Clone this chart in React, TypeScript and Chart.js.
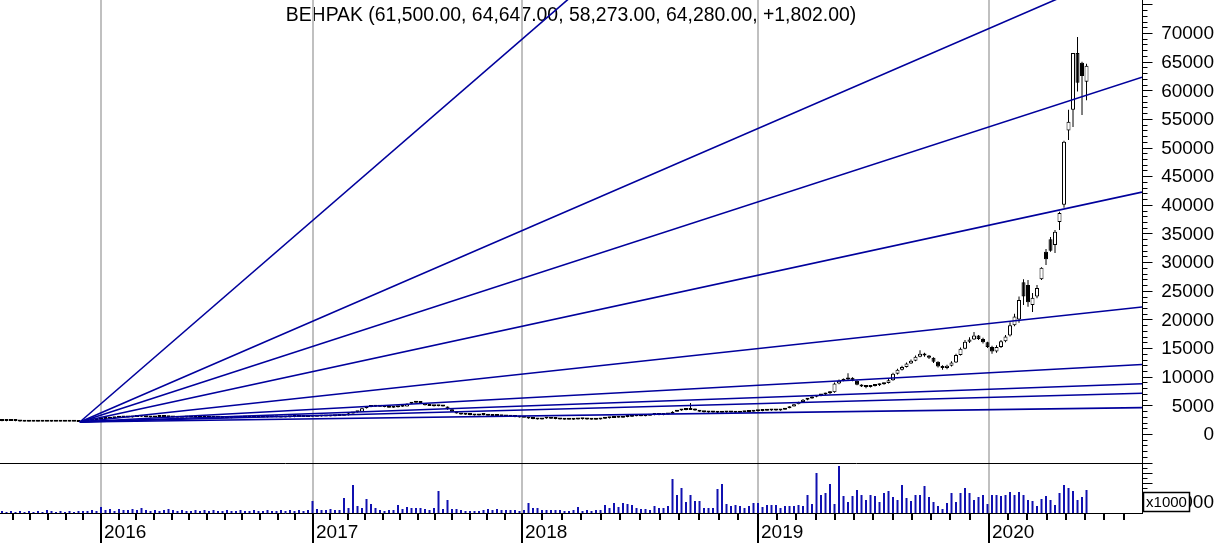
import React, { useEffect, useRef } from 'react';
import { Chart, registerables } from 'chart.js';

Chart.register(...registerables);

const FONT = '"Liberation Sans", Arial, Helvetica, sans-serif';
const TITLE = 'BEHPAK (61,500.00, 64,647.00, 58,273.00, 64,280.00, +1,802.00)';

// Weekly bars (index 0 = first bar on the left)
const opens = [
  2280, 2300, 2280, 2320, 2260, 2180, 2150, 2140, 2160, 2130,
  2140, 2150, 2130, 2120, 2140, 2130, 2120, 2140, 2110, 2250,
  2380, 2450, 2520, 2600, 2680, 2750, 2820, 2880, 2950, 2900,
  2980, 3050, 2990, 2940, 2900, 2950, 3000, 2960, 2920, 2880,
  2850, 2870, 2900, 2860, 2830, 2800, 2820, 2850, 2870, 2840,
  2810, 2790, 2820, 2850, 2880, 2900, 2870, 2850, 2880, 2910,
  2940, 2960, 2930, 2900, 2920, 2950, 2980, 3000, 2970, 2990,
  3020, 3050, 3080, 3060, 3100, 3150, 3200, 3280, 3600, 3800,
  3900, 4500, 4700, 4800, 4750, 4850, 4700, 4600, 4650, 4750,
  4800, 5300, 5450, 5500, 5400, 5000, 4900, 4850, 4950, 4800,
  4300, 3900, 3600, 3400, 3350, 3300, 3250, 3350, 3300, 3200,
  3150, 3200, 3100, 3050, 3000, 2950, 2900, 2850, 2700, 2600,
  2550, 2700, 2750, 2650, 2600, 2550, 2500, 2480, 2550, 2600,
  2580, 2520, 2480, 2550, 2650, 2750, 2800, 2900, 2850, 2950,
  3000, 3100, 3150, 3100, 3200, 3300, 3350, 3300, 3400, 3550,
  3900, 4100, 4300, 4200, 4400, 4100, 3900, 3800, 3750, 3800,
  3700, 3750, 3800, 3750, 3700, 3800, 3850, 3900, 3950, 4000,
  4050, 4100, 4150, 4100, 4250, 4500, 4800, 5200, 5600, 6000,
  6200, 6500, 6700, 6900, 7100, 7300, 8800, 9300, 9500, 9800,
  9300, 8600, 8300, 8200, 8400, 8500, 8700, 8900, 9400, 10500,
  11200, 11700, 12300, 12800, 13500, 14000, 13700, 13300, 12600, 11800,
  11500, 11900, 12500, 13800, 14900, 16100, 16500, 17200, 16600, 16000,
  15200, 14400, 15200, 16200, 17200, 19000, 20000, 26500, 26000, 22500,
  24000, 27000, 31800, 34000, 33000, 37000, 40000, 53000, 56600, 66500,
  64800, 61500,
];
const highs = [
  2350, 2330, 2350, 2340, 2280, 2200, 2170, 2180, 2170, 2160,
  2170, 2170, 2150, 2160, 2160, 2150, 2160, 2160, 2280, 2400,
  2480, 2550, 2640, 2720, 2790, 2860, 2920, 2990, 2980, 3010,
  3090, 3080, 3020, 2970, 2980, 3030, 3030, 2990, 2940, 2900,
  2900, 2920, 2920, 2880, 2850, 2850, 2870, 2900, 2890, 2860,
  2830, 2840, 2870, 2900, 2930, 2920, 2890, 2900, 2930, 2960,
  2990, 2980, 2950, 2940, 2970, 3000, 3030, 3020, 3010, 3050,
  3080, 3110, 3100, 3120, 3180, 3230, 3320, 3650, 3850, 3950,
  4600, 4750, 4850, 4820, 4900, 4880, 4720, 4700, 4800, 4850,
  5350, 5500, 5600, 5550, 5420, 5050, 4950, 5000, 4980, 4820,
  4350, 3950, 3650, 3450, 3400, 3330, 3380, 3380, 3330, 3230,
  3230, 3230, 3130, 3080, 3030, 2980, 2930, 2880, 2730, 2630,
  2730, 2780, 2780, 2680, 2630, 2580, 2530, 2580, 2630, 2630,
  2600, 2540, 2580, 2680, 2780, 2830, 2930, 2920, 2980, 3030,
  3130, 3180, 3180, 3230, 3330, 3380, 3380, 3430, 3580, 3950,
  4150, 4350, 4400, 5400, 4450, 4150, 3950, 3830, 3830, 3830,
  3780, 3830, 3830, 3780, 3830, 3880, 3930, 3980, 4030, 4080,
  4130, 4180, 4180, 4280, 4550, 4850, 5250, 5650, 6100, 6300,
  6600, 6800, 7000, 7200, 7500, 9000, 9500, 9700, 10600, 9900,
  9400, 8700, 8400, 8500, 8700, 8800, 9000, 9600, 10700, 11400,
  11900, 12500, 13000, 13700, 14600, 14200, 13800, 13400, 12700, 12000,
  12100, 12700, 14000, 15100, 16400, 16900, 17800, 17300, 16800, 16100,
  15400, 15500, 16400, 17300, 19500, 21000, 24000, 27000, 26900, 24600,
  26000, 29100, 32300, 34400, 35600, 38800, 51200, 56600, 66500, 69300,
  65000, 64647,
];
const lows = [
  2230, 2240, 2250, 2230, 2150, 2120, 2110, 2120, 2110, 2110,
  2120, 2110, 2100, 2100, 2110, 2100, 2100, 2095, 2100, 2230,
  2350, 2420, 2490, 2570, 2650, 2720, 2790, 2850, 2870, 2880,
  2950, 2960, 2910, 2870, 2880, 2920, 2930, 2890, 2850, 2820,
  2830, 2840, 2840, 2800, 2780, 2780, 2800, 2830, 2820, 2790,
  2770, 2770, 2800, 2830, 2860, 2850, 2830, 2830, 2860, 2890,
  2920, 2910, 2880, 2880, 2900, 2930, 2960, 2950, 2950, 2970,
  3000, 3030, 3040, 3040, 3080, 3130, 3180, 3250, 3550, 3750,
  3880, 4450, 4650, 4700, 4720, 4680, 4570, 4580, 4620, 4720,
  4780, 5250, 5400, 5350, 4980, 4870, 4820, 4830, 4780, 4250,
  3870, 3570, 3370, 3320, 3270, 3220, 3220, 3270, 3170, 3120,
  3120, 3070, 3020, 2970, 2920, 2870, 2820, 2670, 2570, 2520,
  2530, 2670, 2620, 2570, 2520, 2470, 2450, 2460, 2520, 2550,
  2500, 2450, 2460, 2520, 2620, 2720, 2780, 2820, 2830, 2920,
  2980, 3080, 3080, 3080, 3180, 3280, 3270, 3280, 3380, 3520,
  3870, 4080, 4150, 4180, 4080, 3870, 3770, 3720, 3720, 3680,
  3680, 3720, 3720, 3680, 3680, 3780, 3830, 3880, 3930, 3980,
  4030, 4080, 4080, 4080, 4230, 4480, 4780, 5180, 5550, 5900,
  6150, 6400, 6600, 6800, 7000, 7200, 8700, 9200, 9400, 9200,
  8500, 8200, 8000, 8100, 8300, 8400, 8600, 8800, 9300, 10400,
  11100, 11600, 12200, 12700, 13400, 13500, 13100, 12400, 11600, 11200,
  11300, 11800, 12400, 13700, 14800, 15900, 16400, 16400, 15800, 15000,
  14000, 14200, 15000, 16000, 17000, 18800, 19400, 22500, 22200, 21300,
  23700, 26900, 29500, 31800, 31600, 35600, 39500, 51300, 53600, 59800,
  55700, 58273,
];
const closes = [
  2300, 2280, 2320, 2260, 2180, 2150, 2140, 2160, 2130, 2140,
  2150, 2130, 2120, 2140, 2130, 2120, 2140, 2110, 2250, 2380,
  2450, 2520, 2600, 2680, 2750, 2820, 2880, 2950, 2900, 2980,
  3050, 2990, 2940, 2900, 2950, 3000, 2960, 2920, 2880, 2850,
  2870, 2900, 2860, 2830, 2800, 2820, 2850, 2870, 2840, 2810,
  2790, 2820, 2850, 2880, 2900, 2870, 2850, 2880, 2910, 2940,
  2960, 2930, 2900, 2920, 2950, 2980, 3000, 2970, 2990, 3020,
  3050, 3080, 3060, 3100, 3150, 3200, 3280, 3600, 3800, 3900,
  4500, 4700, 4800, 4750, 4850, 4700, 4600, 4650, 4750, 4800,
  5300, 5450, 5500, 5400, 5000, 4900, 4850, 4950, 4800, 4300,
  3900, 3600, 3400, 3350, 3300, 3250, 3350, 3300, 3200, 3150,
  3200, 3100, 3050, 3000, 2950, 2900, 2850, 2700, 2600, 2550,
  2700, 2750, 2650, 2600, 2550, 2500, 2480, 2550, 2600, 2580,
  2520, 2480, 2550, 2650, 2750, 2800, 2900, 2850, 2950, 3000,
  3100, 3150, 3100, 3200, 3300, 3350, 3300, 3400, 3550, 3900,
  4100, 4300, 4200, 4400, 4100, 3900, 3800, 3750, 3800, 3700,
  3750, 3800, 3750, 3700, 3800, 3850, 3900, 3950, 4000, 4050,
  4100, 4150, 4100, 4250, 4500, 4800, 5200, 5600, 6000, 6200,
  6500, 6700, 6900, 7100, 7300, 8800, 9300, 9500, 9800, 9300,
  8600, 8300, 8200, 8400, 8500, 8700, 8900, 9400, 10500, 11200,
  11700, 12300, 12800, 13500, 14000, 13700, 13300, 12600, 11800, 11500,
  11900, 12500, 13800, 14900, 16100, 16500, 17200, 16600, 16000, 15200,
  14400, 15200, 16200, 17000, 19000, 20500, 23400, 24000, 23000, 23800,
  25500, 29000, 30500, 32000, 35300, 38600, 51000, 54500, 66500, 61300,
  62478, 64280,
];
// volume, in thousands of shares (panel label x1000)
const volumes = [
  2000, 1000, 2000, 1000, 2000, 1000, 2000, 1000, 2000, 1000,
  3000, 2000, 1000, 2000, 1000, 2000, 1000, 2000, 2000, 2000,
  3000, 2000, 6000, 3000, 4000, 2000, 4000, 3000, 3000, 4000,
  3000, 5000, 3000, 2000, 3000, 2000, 3000, 4000, 3000, 2000,
  3000, 2000, 2000, 3000, 2000, 3000, 2000, 3000, 2000, 2000,
  3000, 2000, 2000, 3000, 2000, 2000, 3000, 2000, 2000, 3000,
  2000, 2000, 3000, 2000, 3000, 2000, 3000, 2000, 3000, 12000,
  4000, 3000, 3000, 4000, 3000, 3000, 15000, 5000, 28000, 7000,
  5000, 14000, 9000, 5000, 3000, 2000, 3000, 3000, 8000, 4000,
  6000, 5000, 5000, 5000, 4000, 3000, 5000, 22000, 4000, 13000,
  4000, 4000, 3000, 2000, 2000, 2000, 2000, 3000, 4000, 3000,
  4000, 3000, 3000, 3000, 3000, 2000, 3000, 10000, 5000, 5000,
  3000, 3000, 3000, 3000, 3000, 2000, 2000, 3000, 6000, 2000,
  3000, 2000, 3000, 3000, 8000, 5000, 10000, 6000, 10000, 9000,
  8000, 5000, 4000, 4000, 3000, 7000, 5000, 5000, 7000, 34000,
  18000, 25000, 11000, 18000, 12000, 12000, 5000, 5000, 5000, 24000,
  29000, 9000, 7000, 8000, 7000, 5000, 7000, 10000, 10000, 6000,
  8000, 8000, 8000, 5000, 7000, 7000, 7000, 8000, 7000, 18000,
  9000, 40000, 18000, 20000, 29000, 9000, 47000, 17000, 11000, 17000,
  23000, 18000, 13000, 18000, 17000, 11000, 20000, 22000, 16000, 13000,
  28000, 15000, 12000, 18000, 18000, 27000, 16000, 11000, 7000, 4000,
  10000, 20000, 11000, 20000, 25000, 20000, 13000, 16000, 18000, 9000,
  18000, 18000, 17000, 18000, 21000, 18000, 21000, 18000, 13000, 12000,
  7000, 14000, 17000, 13000, 8000, 20000, 28000, 25000, 22000, 13000,
  16000, 23000,
];

// Calendar: bar index where each year starts
const yearLabels = ['2016', '2017', '2018', '2019', '2020'];
const yearStartBar = [22, 69.1, 115.6, 168, 219.3];

// Axis ticks
const priceLabelStep = 5000;
const priceMinorStep = 1000;
const priceLabelMin = 0;
const priceLabelMax = 70000;
const volumeLabelValue = 10000;

// Gann fan
const fanOriginBar = 17.3;
const fanOriginPrice = 2095;
const gannUnit = 85; // price per bar for the 1x1 line
const fanRatios = [8, 4, 3, 2, 1, 1 / 2, 1 / 3, 1 / 4, 1 / 8];

// Layout
const W = 1220;
const H = 543;
const AXIS_W = 78;
const XAXIS_H = 30;
const X_MIN = -0.444;
const X_MAX = 253.33;
const P_MIN = -13790;
const P_MAX = 75760;
const V_MAX = 513000;
const V_PANEL_TOP = 50000;

const FAN_COLOR = '#00009c';
const VOL_COLOR = '#1010b0';
const GRID_COLOR = '#c0c0c0';

function hline(ctx: CanvasRenderingContext2D, x1: number, y: number, x2: number) {
  ctx.beginPath();
  ctx.moveTo(x1, y);
  ctx.lineTo(x2, y);
  ctx.stroke();
}

const decorPlugin = {
  id: 'decor',
  beforeDraw(chart: any) {
    const { ctx, chartArea: a, scales } = chart;
    const xs = scales.x;
    ctx.save();
    ctx.fillStyle = '#ffffff';
    ctx.fillRect(0, 0, chart.width, chart.height);
    ctx.fillStyle = '#000000';
    ctx.font = `19.4px ${FONT}`;
    ctx.textAlign = 'center';
    ctx.textBaseline = 'alphabetic';
    ctx.fillText(TITLE, 571, 21);
    ctx.fillStyle = GRID_COLOR;
    yearStartBar.forEach((b) => {
      const px = Math.round(xs.getPixelForValue(b));
      ctx.fillRect(px - 1, a.top, 2, a.bottom - a.top);
    });
    ctx.restore();
  },
  afterDraw(chart: any) {
    const { ctx, chartArea: a, scales } = chart;
    const xs = scales.x;
    const ys = scales.y;
    const yv = scales.yv;
    ctx.save();
    ctx.strokeStyle = '#000000';
    ctx.fillStyle = '#000000';
    ctx.lineWidth = 1;
    const divY = Math.round(yv.getPixelForValue(V_PANEL_TOP)) + 0.5;
    const rx = a.right + 0.5;
    const by = a.bottom + 0.5;
    // panel divider, axes
    hline(ctx, a.left, divY, a.right);
    hline(ctx, a.left, by, a.right);
    ctx.beginPath();
    ctx.moveTo(rx, a.top);
    ctx.lineTo(rx, a.bottom + 1);
    ctx.stroke();

    // price axis ticks
    for (let v = P_MIN - (P_MIN % priceMinorStep); v <= P_MAX; v += priceMinorStep) {
      const py = ys.getPixelForValue(v);
      if (py < a.top || py > divY) continue;
      const major = v % priceLabelStep === 0;
      hline(ctx, rx, Math.round(py) + 0.5, rx + (major ? 10 : 5));
    }
    ctx.font = `19px ${FONT}`;
    ctx.textAlign = 'right';
    ctx.textBaseline = 'middle';
    for (let v = priceLabelMin; v <= priceLabelMax; v += priceLabelStep) {
      ctx.fillText(String(v), W - 6, ys.getPixelForValue(v) + 1);
    }

    // volume axis ticks
    for (let v = 5000; v < V_PANEL_TOP; v += 5000) {
      const py = yv.getPixelForValue(v);
      const major = v % 10000 === 0;
      hline(ctx, rx, Math.round(py) + 0.5, rx + (major ? 10 : 5));
    }
    ctx.fillText(String(volumeLabelValue), W - 6, yv.getPixelForValue(volumeLabelValue));
    // x1000 box
    const bx = a.right + 1.5;
    const bTop = a.bottom - 20.5;
    ctx.fillStyle = '#ffffff';
    ctx.fillRect(bx, bTop, 46, 19);
    ctx.lineWidth = 1.5;
    ctx.strokeRect(bx, bTop, 46, 19);
    ctx.fillStyle = '#000000';
    ctx.font = `15px ${FONT}`;
    ctx.textAlign = 'center';
    ctx.fillText('x1000', bx + 23, bTop + 10.5);

    // x axis: month ticks and year ticks
    const monthTicks: number[] = [];
    yearStartBar.forEach((s, k) => {
      const next = k + 1 < yearStartBar.length ? yearStartBar[k + 1] : s + (s - yearStartBar[k - 1]);
      const step = (next - s) / 12;
      for (let m = 1; m < 12; m++) monthTicks.push(s + m * step);
      if (k === 0) {
        for (let m = 1; s - m * step >= X_MIN; m++) monthTicks.push(s - m * step);
      }
    });
    monthTicks.forEach((t) => {
      if (t < X_MIN || t > X_MAX - 1) return;
      const px = Math.round(xs.getPixelForValue(t));
      ctx.fillRect(px - 1, a.bottom, 2, 7);
    });
    ctx.font = `19px ${FONT}`;
    ctx.textAlign = 'left';
    ctx.textBaseline = 'alphabetic';
    yearStartBar.forEach((b, k) => {
      const px = Math.round(xs.getPixelForValue(b));
      ctx.fillRect(px - 1, a.bottom, 2, H - a.bottom);
      ctx.fillText(yearLabels[k], px + 3, H - 5);
    });
    ctx.restore();
  },
};

export default function App() {
  const ref = useRef<HTMLCanvasElement | null>(null);

  useEffect(() => {
    const canvas = ref.current;
    if (!canvas) return;
    const idx = closes.map((_, i) => i);

    const fanDatasets = fanRatios.map((r) => ({
      type: 'line' as const,
      label: `fan ${r}`,
      data: [
        { x: fanOriginBar, y: fanOriginPrice },
        { x: X_MAX, y: fanOriginPrice + r * gannUnit * (X_MAX - fanOriginBar) },
      ],
      borderColor: FAN_COLOR,
      borderWidth: 1.6,
      pointRadius: 0,
      fill: false,
      tension: 0,
      xAxisID: 'x',
      yAxisID: 'y',
      order: 0,
    }));

    const chart = new Chart(canvas, {
      type: 'bar',
      data: {
        datasets: [
          {
            type: 'bar',
            label: 'volume',
            data: idx.map((i) => ({ x: i, y: volumes[i] })),
            backgroundColor: VOL_COLOR,
            borderWidth: 0,
            barThickness: 2,
            grouped: false,
            inflateAmount: 0,
            xAxisID: 'x',
            yAxisID: 'yv',
            order: 4,
          } as any,
          {
            type: 'bar',
            label: 'wicks',
            data: idx.map((i) => ({ x: i, y: [lows[i], highs[i]] })),
            backgroundColor: '#000000',
            borderWidth: 0,
            barThickness: 1,
            grouped: false,
            inflateAmount: 0,
            xAxisID: 'x',
            yAxisID: 'y',
            order: 3,
          } as any,
          {
            type: 'bar',
            label: 'bodies',
            data: idx.map((i) => ({ x: i, y: [opens[i], closes[i]] })),
            backgroundColor: (c: any) =>
              closes[c.dataIndex] >= opens[c.dataIndex] ? '#ffffff' : '#000000',
            borderColor: '#000000',
            borderWidth: 1,
            borderSkipped: false,
            barThickness: 4,
            minBarLength: 2,
            grouped: false,
            inflateAmount: 0,
            xAxisID: 'x',
            yAxisID: 'y',
            order: 2,
          } as any,
          ...(fanDatasets as any[]),
        ],
      },
      options: {
        responsive: false,
        animation: false,
        devicePixelRatio: 1,
        events: [],
        layout: { padding: { left: 0, top: 0, right: AXIS_W, bottom: XAXIS_H } },
        plugins: {
          legend: { display: false },
          tooltip: { enabled: false },
          title: { display: false },
        },
        scales: {
          x: { type: 'linear', display: false, min: X_MIN, max: X_MAX, offset: false },
          y: { type: 'linear', axis: 'y', display: false, min: P_MIN, max: P_MAX },
          yv: { type: 'linear', axis: 'y', display: false, min: 0, max: V_MAX },
        },
      } as any,
      plugins: [decorPlugin],
    });
    return () => chart.destroy();
  }, []);

  return (
    <div style={{ position: 'absolute', left: 0, top: 0, width: W, height: H, background: '#ffffff' }}>
      <canvas ref={ref} width={W} height={H} style={{ display: 'block', width: W, height: H }} />
    </div>
  );
}
